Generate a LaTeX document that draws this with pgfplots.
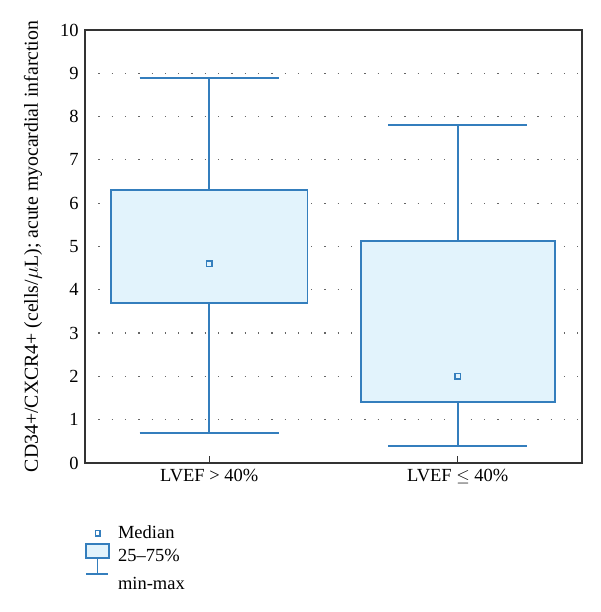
\documentclass[border=0pt]{standalone}
\usepackage{pgfplots}
\pgfplotsset{compat=1.18}
\usepgfplotslibrary{statistics}
\usepackage{fontspec}
\setmainfont{Liberation Serif}
\definecolor{boxblue}{RGB}{52,126,189}
\definecolor{boxfill}{RGB}{226,243,252}
\newcommand{\chartfont}{\fontsize{18.5}{22}\selectfont}
\pgfplotsset{
  myboxplot/.style={
    boxplot/draw direction=y,
    boxplot/draw/median/.code={},
    boxplot/draw/box/.code={
      \draw[draw=boxblue, fill=boxfill, line width=1.8pt]
        (boxplot box cs:\pgfplotsboxplotvalue{lower quartile},0)
        rectangle
        (boxplot box cs:\pgfplotsboxplotvalue{upper quartile},1);
    },
    boxplot/draw/lower whisker/.code={
      \draw[draw=boxblue, line width=1.8pt]
        (boxplot box cs:\pgfplotsboxplotvalue{lower quartile},0.5)
        -- (boxplot box cs:\pgfplotsboxplotvalue{lower whisker},0.5)
        (boxplot whisker cs:\pgfplotsboxplotvalue{lower whisker},0)
        -- (boxplot whisker cs:\pgfplotsboxplotvalue{lower whisker},1);
    },
    boxplot/draw/upper whisker/.code={
      \draw[draw=boxblue, line width=1.8pt]
        (boxplot box cs:\pgfplotsboxplotvalue{upper quartile},0.5)
        -- (boxplot box cs:\pgfplotsboxplotvalue{upper whisker},0.5)
        (boxplot whisker cs:\pgfplotsboxplotvalue{upper whisker},0)
        -- (boxplot whisker cs:\pgfplotsboxplotvalue{upper whisker},1);
    },
  },
}
\begin{document}
\chartfont
\begin{tikzpicture}[x=1pt,y=1pt]
\useasboundingbox (0,0) rectangle (600,612);
\begin{axis}[
  at={(85pt,149pt)}, anchor=south west,
  width=497pt, height=433pt, scale only axis,
  xmin=-0.5, xmax=1.5, ymin=0, ymax=10,
  xtick={0,1}, xticklabels={LVEF > 40\%, LVEF $\leq$ 40\%},
  ytick={0,1,...,10},
  ymajorgrids,
  grid style={dash pattern=on 1.3pt off 12pt, black!60, line width=1.2pt},
  axis line style={black!80, line width=1.4pt},
  xtick style={black!80, line width=1.4pt},
  ytick style={draw=none},
  major tick length=7pt,
  xtick pos=bottom,
  tick label style={font=\chartfont},
  label style={font=\fontsize{19.8}{23}\selectfont},
  /pgf/number format/assume math mode=true,
  ylabel={CD34+/CXCR4+ (cells/$\mu$L); acute myocardial infarction},
  ylabel style={at={(rel axis cs:-0.1046,0.5)}, anchor=center},
  legend style={draw=none, fill=none, at={(-0.006,-0.135)}, anchor=north west,
    font=\chartfont, row sep=0pt},
  legend cell align=left,
]
\addplot[myboxplot, boxplot prepared={lower whisker=0.7, lower quartile=3.7, median=4.6,
  upper quartile=6.3, upper whisker=8.9, draw position=0, box extend=0.79,
  whisker extend=0.56}, forget plot] coordinates {};
\addplot[myboxplot, boxplot prepared={lower whisker=0.4, lower quartile=1.4, median=2.0,
  upper quartile=5.13, upper whisker=7.8, draw position=1, box extend=0.78,
  whisker extend=0.56}, forget plot] coordinates {};
\addplot[only marks, mark=square, mark size=2.8pt, boxblue, line width=1.6pt, forget plot]
  coordinates {(0,4.6) (1,2.0)};
\addlegendimage{legend image code/.code={
  \path[draw=none] (0pt,0pt) -- (30pt,0pt);
  \draw[boxblue, line width=1.5pt] (9.5pt,-2.5pt) rectangle (14pt,3pt);
}}
\addlegendentry{Median}
\addlegendimage{legend image code/.code={
  \path[draw=none] (0pt,0pt) -- (30pt,0pt);
  \draw[boxblue, fill=boxfill, line width=1.6pt] (0pt,-1pt) rectangle (23pt,13pt);
  \draw[boxblue, line width=1.6pt] (11.5pt,-1pt) -- (11.5pt,-17pt);
  \draw[boxblue, line width=1.6pt] (0pt,-17pt) -- (22pt,-17pt);
}}
\addlegendentry{25--75\%}
\addlegendimage{legend image code/.code={\path[draw=none] (0pt,0pt) -- (30pt,0pt);}}
\addlegendentry{min-max}
\end{axis}
\end{tikzpicture}
\end{document}
